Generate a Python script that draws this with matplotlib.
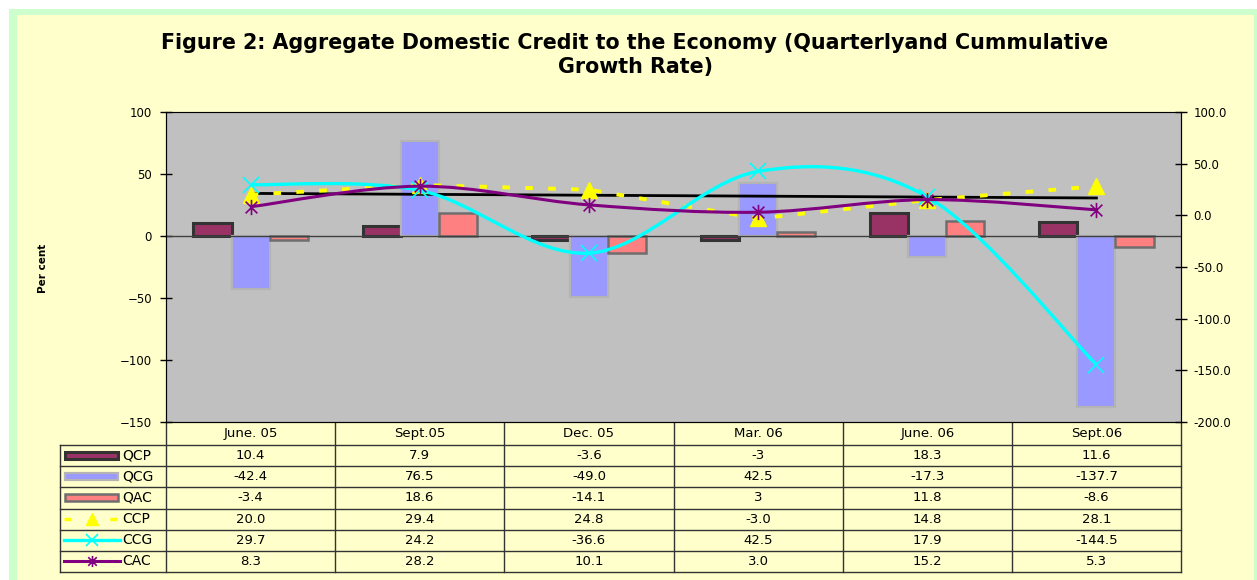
import numpy as np
import matplotlib
matplotlib.use("Agg")
import matplotlib.pyplot as plt
from matplotlib.path import Path
from matplotlib.patches import PathPatch, Rectangle

plt.rcParams['font.family'] = ['DejaVu Sans']
plt.rcParams['lines.scale_dashes'] = False

categories = ["June. 05", "Sept.05", "Dec. 05", "Mar. 06", "June. 06", "Sept.06"]
qcp = [10.4, 7.9, -3.6, -3, 18.3, 11.6]
qcg = [-42.4, 76.5, -49.0, 42.5, -17.3, -137.7]
qac = [-3.4, 18.6, -14.1, 3, 11.8, -8.6]
ccp = [20.0, 29.4, 24.8, -3.0, 14.8, 28.1]
ccg = [29.7, 24.2, -36.6, 42.5, 17.9, -144.5]
cac = [8.3, 28.2, 10.1, 3.0, 15.2, 5.3]

W, H = 1257, 580


def smooth_path(xs, ys):
    # Excel-like smoothed line: Catmull-Rom segments as cubic Beziers
    pts = np.column_stack([xs, ys]).astype(float)
    n = len(pts)
    verts = [pts[0]]
    codes = [Path.MOVETO]
    for i in range(n - 1):
        p0 = pts[max(i - 1, 0)]
        p1 = pts[i]
        p2 = pts[i + 1]
        p3 = pts[min(i + 2, n - 1)]
        verts += [p1 + (p2 - p0) / 6, p2 - (p3 - p1) / 6, p2]
        codes += [Path.CURVE4] * 3
    return Path(verts, codes)


star = Path([(-1, -1), (1, 1), (-1, 1), (1, -1), (0, -1.3), (0, 1.3)],
            [Path.MOVETO, Path.LINETO, Path.MOVETO, Path.LINETO, Path.MOVETO, Path.LINETO])

fig = plt.figure(figsize=(W / 100, H / 100), dpi=100)
fig.patch.set_facecolor("white")

# background frame and table layer in pixel coordinates
bg = fig.add_axes([0, 0, 1, 1], zorder=-5)
bg.set_xlim(0, W)
bg.set_ylim(H, 0)
bg.axis("off")
bg.add_patch(Rectangle((9, 9), W, H, facecolor="#CCFFCC", edgecolor="none"))
bg.add_patch(Rectangle((17, 15), 1254 - 17, H, facecolor="#FFFFCC", edgecolor="none"))

L, R, T, B = 166, 1181, 112, 422
ax = fig.add_axes([L / W, 1 - B / H, (R - L) / W, (B - T) / H])
ax.set_facecolor("#C0C0C0")
x = np.arange(len(categories))
w = 0.225
styles = [
    ("QCP", qcp, "#993366", "#333333", 2.2, "g"),
    ("QCG", qcg, "#9999FF", "#B4B4B4", 1.6, ".1f"),
    ("QAC", qac, "#FF8080", "#6E6E6E", 1.8, "g"),
]
for k, (name, vals, fc, ec, lw, _) in enumerate(styles):
    ax.bar(x + (k - 1) * w, vals, w, color=fc, edgecolor=ec, linewidth=lw, zorder=2)
ax.axhline(0, color="#404040", lw=1, zorder=3)
ax.set_xlim(-0.5, 5.5)
ax.set_ylim(-150, 100)
ax.set_yticks([-150, -100, -50, 0, 50, 100])
ax.set_xticks([])
ax.tick_params(axis="y", direction="inout", length=8, width=1, pad=6, labelsize=8.5)
for s in ["left", "bottom", "right"]:
    ax.spines[s].set_color("black")
ax.spines["top"].set_color("#808080")

ax2 = ax.twinx()
ax2.set_ylim(-200, 100)
ax2.set_yticks([-200, -150, -100, -50, 0, 50, 100])
ax2.yaxis.set_major_formatter(matplotlib.ticker.FormatStrFormatter("%.1f"))
ax2.tick_params(axis="y", direction="inout", length=8, width=1, pad=5, labelsize=8.5)
ax2.spines["right"].set_color("black")

# CCP linear trend
coef = np.polyfit(x, ccp, 1)
ax2.plot(x, np.polyval(coef, x), color="black", lw=2, zorder=3)

ax2.plot(x, ccp, color="#FFFF00", lw=2.8, dashes=(5.5, 11), marker="^",
         markersize=12, markeredgecolor="#FFFF00", zorder=4)
ax2.add_patch(PathPatch(smooth_path(x, ccg), fill=False, edgecolor="#00FFFF", lw=2.4, zorder=5))
ax2.plot(x, ccg, ls="none", marker="x", markersize=12, mew=1.2, color="#00FFFF", zorder=5)
ax2.add_patch(PathPatch(smooth_path(x, cac), fill=False, edgecolor="#800080", lw=2.2, zorder=6))
ax2.plot(x, cac, ls="none", marker=star, markersize=11, mew=1.2, color="#800080", zorder=6)

# data table under the chart
col_x = np.linspace(L, R, len(categories) + 1)
row_y = np.linspace(445, 572, 7)
for cx in col_x:
    bg.plot([cx, cx], [B, row_y[-1]], color="#333333", lw=1)
bg.plot([60, 60], [row_y[0], row_y[-1]], color="#333333", lw=1)
for ry in row_y:
    bg.plot([60, R], [ry, ry], color="#333333", lw=1)
for j, c in enumerate(categories):
    bg.text((col_x[j] + col_x[j + 1]) / 2, (B + row_y[0]) / 2, c, ha="center", va="center", fontsize=9.5)

rows = [(name, vals, fmt) for name, vals, _, _, _, fmt in styles]
rows += [("CCP", ccp, ".1f"), ("CCG", ccg, ".1f"), ("CAC", cac, ".1f")]
for i, (name, vals, fmt) in enumerate(rows):
    yc = (row_y[i] + row_y[i + 1]) / 2
    for j, v in enumerate(vals):
        bg.text((col_x[j] + col_x[j + 1]) / 2, yc, format(v, fmt), ha="center", va="center", fontsize=9.5)
    bg.text(122, yc, name, ha="left", va="center", fontsize=10)
for i, (name, vals, fc, ec, lw, _) in enumerate(styles):
    yc = (row_y[i] + row_y[i + 1]) / 2
    bg.add_patch(Rectangle((65, yc - 3.5), 53, 7, facecolor=fc, edgecolor=ec, lw=lw))
yc = (row_y[3] + row_y[4]) / 2
bg.plot([64, 120], [yc, yc], color="#FFFF00", lw=2.5, dashes=(5, 28))
bg.plot([92], [yc], marker="^", markersize=9, color="#FFFF00")
yc = (row_y[4] + row_y[5]) / 2
bg.plot([64, 120], [yc, yc], color="#00FFFF", lw=2.4)
bg.plot([92], [yc], marker="x", markersize=9, mew=1.2, color="#00FFFF")
yc = (row_y[5] + row_y[6]) / 2
bg.plot([64, 120], [yc, yc], color="#800080", lw=2.2)
bg.plot([92], [yc], marker=star, markersize=8, mew=1.2, color="#800080")

fig.text(635 / W, 1 - 55 / H,
         "Figure 2: Aggregate Domestic Credit to the Economy (Quarterlyand Cummulative\nGrowth Rate)",
         ha="center", va="center", fontsize=14.9, fontweight="bold", linespacing=1.25)
fig.text(43 / W, 1 - 268 / H, "Per cent", rotation=90, ha="center", va="center",
         fontsize=7.5, fontweight="bold")

fig.savefig("out.png", dpi=100)
